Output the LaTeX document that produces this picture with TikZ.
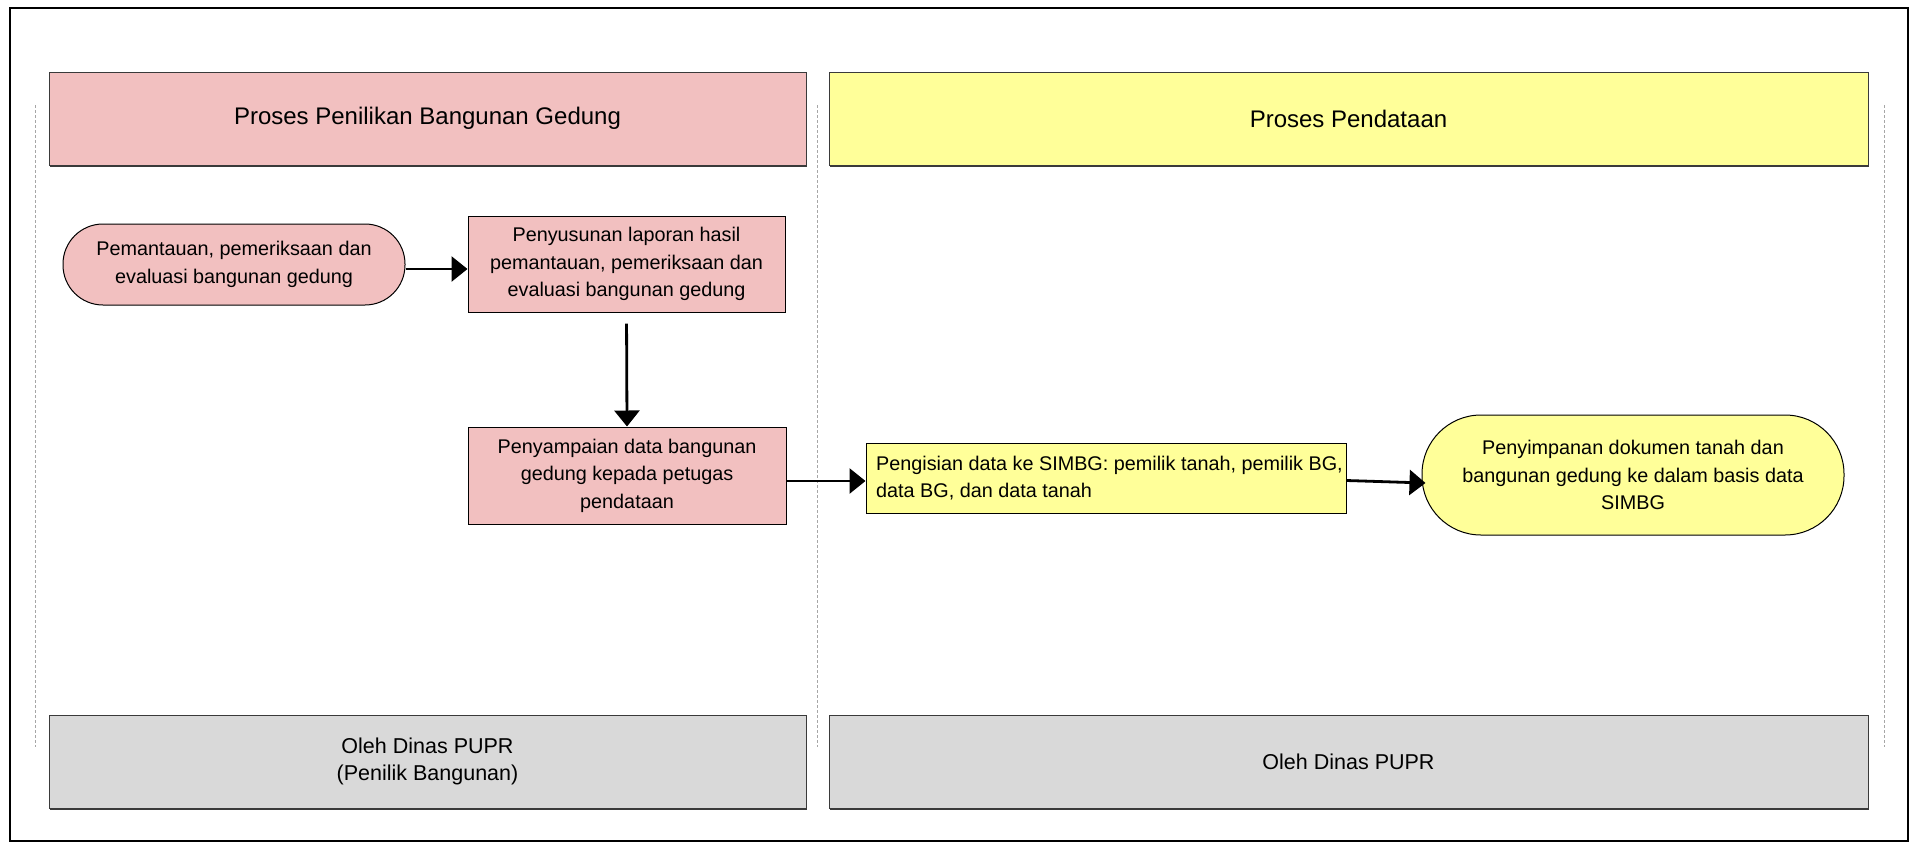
\documentclass[tikz,border=0pt]{standalone}
\usepackage{fontspec}
\setmainfont{Liberation Sans}
\usetikzlibrary{arrows.meta,shadows}
\definecolor{pinkfill}{HTML}{F2C0C0}
\definecolor{yelfill}{HTML}{FFFF99}
\definecolor{grayfill}{HTML}{D9D9D9}
\definecolor{edge}{HTML}{3A3A3A}
\begin{document}
\begin{tikzpicture}[x=1pt,y=-1pt,
  hdr/.style={draw=edge,line width=1pt,inner sep=0pt,minimum width=757pt,minimum height=93pt,
    font=\fontsize{24}{29}\selectfont,
    general shadow={fill=edge,shadow xshift=0.8pt,shadow yshift=-1.6pt}},
  ftr/.style={hdr,fill=grayfill,font=\fontsize{21.5}{27}\selectfont,align=center},
  stepbox/.style={draw=black,line width=1pt,inner sep=0pt,align=center,
    font=\fontsize{19.8}{27.5}\selectfont},
  term/.style={stepbox,rounded corners=#1},
  lane/.style={draw=gray!70,line width=0.8pt,dash pattern=on 3pt off 2pt},
  arr/.style={line width=2.8pt,-{Triangle[length=16pt,width=25pt]}}
]
\useasboundingbox (0,0) rectangle (1912,847);
\draw[line width=1.8pt] (10,8) rectangle (1908,841);
% lane separators
\coordinate (l1a) at (35,105); \coordinate (l1b) at (35,747);
\coordinate (l2a) at (817,105); \coordinate (l2b) at (817,747);
\coordinate (l3a) at (1884,105); \coordinate (l3b) at (1884,747);
\draw[lane] (l1a) -- (l1b);
\draw[lane] (l2a) -- (l2b);
\draw[lane] (l3a) -- (l3b);
% headers
\node[hdr,fill=pinkfill] (h1) at (427.5,118.5) {Proses Penilikan Bangunan Gedung};
\node[hdr,fill=yelfill,minimum width=1039pt] (h2) at (1348.5,118.5) {Proses Pendataan};
% footers
\node[ftr] (f1) at (427.5,761.5) {Oleh Dinas PUPR\\(Penilik Bangunan)};
\node[ftr,minimum width=1039pt] (f2) at (1348.5,761.5) {Oleh Dinas PUPR};
% process nodes
\node[term=40pt,fill=pinkfill,minimum width=342pt,minimum height=81pt] (a) at (234,264.5)
  {Pemantauan, pemeriksaan dan\\evaluasi bangunan gedung};
\node[stepbox,fill=pinkfill,minimum width=317pt,minimum height=96pt] (b) at (626.5,264)
  {Penyusunan laporan hasil\\pemantauan, pemeriksaan dan\\evaluasi bangunan gedung};
\node[stepbox,fill=pinkfill,minimum width=318pt,minimum height=97pt] (c) at (627,475.5)
  {Penyampaian data bangunan\\gedung kepada petugas\\pendataan};
\node[stepbox,fill=yelfill,minimum width=480pt,minimum height=70pt,align=left] (d) at (1106,478)
  {\hspace*{7pt}Pengisian data ke SIMBG: pemilik tanah, pemilik BG,\\\hspace*{7pt}data BG, dan data tanah};
\node[term=59pt,fill=yelfill,minimum width=422pt,minimum height=120pt] (e) at (1633,475)
  {Penyimpanan dokumen tanah dan\\bangunan gedung ke dalam basis data\\SIMBG};
% connectors
\draw[arr] ([yshift=-4.5pt]a.east) -- ([yshift=-5pt]b.west);
\draw[arr,shorten <=11pt] (b.south) -- (c.north);
\draw[arr] ([yshift=-5.5pt]c.east) -- ([yshift=-3pt]d.west);
\draw[arr] ([yshift=-2.5pt]d.east) -- ([xshift=4pt,yshift=-8pt]e.west);
\end{tikzpicture}
\end{document}
